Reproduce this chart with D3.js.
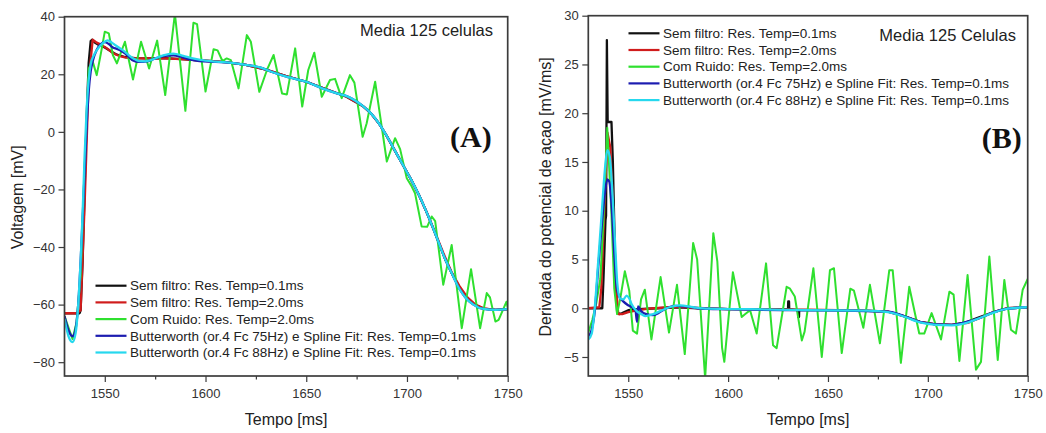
<!DOCTYPE html>
<html><head><meta charset="utf-8">
<script src="https://cdn.jsdelivr.net/npm/d3@7"></script>
<style>
body{margin:0;background:#fff;}
svg{display:block;font-family:"Liberation Sans",Arial,sans-serif;}
</style></head>
<body><svg id="c" width="1046" height="433"></svg>
<script>
// ---------- DATA ----------
const seriesNames = [
  "Sem filtro: Res. Temp=0.1ms",
  "Sem filtro: Res. Temp=2.0ms",
  "Com Ruido: Res. Temp=2.0ms",
  "Butterworth (or.4 Fc 75Hz) e Spline Fit: Res. Temp=0.1ms",
  "Butterworth (or.4 Fc 88Hz) e Spline Fit: Res. Temp=0.1ms"
];
const seriesColors = ["#111111", "#d01c1c", "#2fe02f", "#1c1cb0", "#26d8ee"];
const xTicks = [1550, 1600, 1650, 1700, 1750];
const aYTicks = [-80, -60, -40, -20, 0, 20, 40];
const bYTicks = [-5, 0, 5, 10, 15, 20, 25, 30];

// Panel A: Voltagem [mV] vs Tempo [ms]
const aBlack = [[1530,-63],[1537.5,-63],[1538,-62],[1539,-45],[1540,-20],[1541,5],[1542,24],[1543,31.5],[1543.8,32],[1545,31],[1547,30.2],[1550,29.3],[1553,28],[1556,26.8],[1560,26],[1565,25.6],[1570,25.5],[1580,25.6],[1590,25.2],[1600,24.7],[1610,24.2],[1620,23.3],[1630,21.6],[1640,19.4],[1650,17.4],[1660,14.8],[1670,12.2],[1678,9],[1682,6.5],[1686,3],[1690,-1.5],[1694,-6.5],[1698,-11.5],[1702,-16.5],[1706,-22],[1710,-28.3],[1713,-33.5],[1716.6,-40],[1719,-44.3],[1722,-48.8],[1726,-54],[1729,-57],[1733,-59.8],[1738,-61.4],[1744,-61.8],[1750,-61.6]];
const aRed = [[1530,-63],[1532,-63],[1534,-63],[1536,-63],[1538,-62],[1540,-25],[1542,18],[1544,32],[1546,31],[1548,30.3],[1550,29.5],[1552,28.5],[1554,27.4],[1556,26.7],[1558,26.2],[1560,25.9],[1564,25.6],[1570,25.5],[1580,25.5],[1590,25.2],[1600,24.7],[1610,24.2],[1620,23.3],[1630,21.6],[1640,19.4],[1650,17.4],[1660,14.8],[1670,12.2],[1678,9],[1682,6.5],[1686,3],[1690,-1.5],[1694,-6.5],[1698,-11.5],[1702,-16.5],[1706,-22],[1710,-28.3],[1714,-35],[1718,-42],[1722,-48.5],[1726,-53.5],[1730,-57.5],[1734,-60],[1738,-61.3],[1744,-61.8],[1750,-61.6]];
const aGreen = [[1530,-64],[1532,-68],[1534,-72],[1536,-66],[1538,-50],[1540,-12],[1542,22],[1544,24.4],[1546,19.7],[1548,27],[1550,34.8],[1552,34.2],[1554,26.7],[1556,23.8],[1560,31.3],[1564,18.2],[1568,31.3],[1572,22],[1576,31.7],[1580,12.8],[1584.8,41],[1590,7.3],[1594,37.9],[1595.8,37.4],[1600,14],[1604,28.7],[1606,28.3],[1608.4,24.6],[1610.5,25.5],[1612.6,24.9],[1616.4,15.1],[1620.5,33.6],[1622.5,31.3],[1626.7,13.9],[1630.5,21.5],[1633.8,26.7],[1638,13.3],[1640.4,13],[1644.5,29],[1648,8.8],[1651,21.5],[1654,27.5],[1657.7,12.2],[1661.8,18],[1664.3,18.4],[1667.6,11.7],[1671.7,19.7],[1673.9,17.1],[1678,-1.7],[1680,3],[1684.2,17.4],[1686.6,5.9],[1690,-10.3],[1694.1,-2.2],[1696.6,-6],[1699.9,-16.1],[1702,-18.5],[1704,-21.3],[1707.3,-32.9],[1710,-33],[1712.3,-29.4],[1714,-31],[1718,-53.1],[1722.2,-39.3],[1727.2,-68.2],[1731.8,-47.7],[1736.3,-68.2],[1739.6,-56],[1741.2,-57.5],[1743.9,-65.9],[1745.5,-65.3],[1749.4,-59],[1750,-61]];
const aBlue = [[1530,-64],[1532,-69],[1534,-71],[1535,-70],[1536,-66],[1537,-58],[1538,-45],[1539,-30],[1540,-14],[1541,2],[1542,14],[1543,21],[1544,24.5],[1546,28.5],[1548,30.5],[1550,31.2],[1552,30.5],[1554,29.3],[1556,28.8],[1558,28.2],[1560,27.3],[1562,26],[1564,24.8],[1567,24.3],[1571,24.5],[1575,25.5],[1580,26.4],[1584,26.6],[1588,26],[1592,25.2],[1597,24.6],[1605,24.3],[1614,23.9],[1620,23.3],[1627,22.4],[1633,20.8],[1641,19],[1650,17.4],[1658,15.1],[1666,13.2],[1670,12.4],[1678,9],[1682,6.5],[1686,3],[1690,-1.5],[1694,-6.5],[1698,-11.5],[1702,-16.5],[1706,-22],[1710,-28.3],[1713,-33.5],[1716.6,-40],[1719,-44.3],[1722,-48.8],[1726,-54.5],[1729,-57.5],[1733,-60],[1738,-61.5],[1744,-61.8],[1750,-61.6]];
const aCyan = [[1530,-65],[1532,-71],[1534,-73],[1535.5,-70],[1537,-58],[1538,-45],[1539,-28],[1540,-8],[1541,8],[1542,18],[1543,23.5],[1544.5,26.5],[1546.5,28.8],[1549,30.8],[1551.5,31.8],[1553.5,31],[1555.5,30],[1558,28.8],[1560,27.8],[1562,26.6],[1564.2,25.5],[1567,24.6],[1570,24.5],[1573.3,25],[1576,25.8],[1579,26.6],[1584,27.2],[1589,26.4],[1593,25.6],[1597.4,25],[1605,24.4],[1614,23.9],[1620,23.3],[1627,22.4],[1633,20.8],[1641,19],[1650,17.4],[1658,15.1],[1666,13.2],[1670,12.4],[1678,9],[1682,6.5],[1686,3],[1690,-1.5],[1694,-6.5],[1698,-11.5],[1702,-16.5],[1706,-22],[1710,-28.3],[1713,-33.5],[1716.6,-40],[1719,-44.3],[1722,-48.8],[1726,-54.5],[1729,-57.5],[1733,-60],[1738,-61.5],[1744,-61.8],[1750,-61.6]];

// Panel B: Derivada do potencial de açao [mV/ms] vs Tempo [ms]
const bBlack = [[1530,0],[1537,0],[1537.6,3],[1538.6,9],[1538.9,9.5],[1539.3,27.5],[1539.7,19.1],[1541.6,19.1],[1542.3,15],[1543.4,5],[1544.4,-0.3],[1545.5,-0.6],[1547,-0.5],[1550,-0.2],[1555,-0.1],[1565,0],[1575,0.1],[1585,0],[1600,-0.1],[1630,-0.1],[1630.1,0.7],[1630.5,0.7],[1630.6,-0.1],[1635,-0.2],[1635.1,-0.9],[1635.5,-0.9],[1635.6,-0.2],[1660,-0.2],[1680,-0.35],[1688,-0.8],[1696,-1.4],[1704,-1.65],[1712,-1.7],[1719,-1.45],[1726,-0.9],[1733,-0.4],[1740,0],[1750,0.1]];
const bRed = [[1530,0],[1535.5,0.1],[1536.5,2],[1538,10],[1539.6,18],[1541,16.5],[1542.5,10],[1544,2],[1545,-0.6],[1547,-0.6],[1550,-0.4],[1555,-0.2],[1560,-0.05],[1570,0.1],[1576,0.15],[1582,0.05],[1600,-0.1],[1640,-0.15],[1670,-0.25],[1680,-0.35],[1688,-0.8],[1696,-1.4],[1704,-1.65],[1712,-1.7],[1720,-1.5],[1726,-1],[1733,-0.4],[1740,0],[1750,0.1]];
const bGreen = [[1530,-2.5],[1532,-1.2],[1534,0.5],[1536,3],[1537.6,9],[1539.5,18.5],[1541.5,10],[1543,2],[1544.4,-0.6],[1546,1],[1548.3,3.8],[1550.5,1.8],[1552.3,-2.3],[1554.4,-2.6],[1556.4,0.9],[1558.3,1.9],[1561.6,-3.2],[1566.2,3.2],[1570.4,-2.5],[1574.4,2.4],[1578.3,-4.7],[1582.5,6.7],[1584.5,5],[1588.5,-7.2],[1592.6,7.7],[1594.6,4.8],[1597,-4.1],[1598.1,-5.5],[1602.4,3.7],[1604.5,1.5],[1606.8,-0.9],[1608.6,-0.6],[1611,-0.2],[1614.3,-2.6],[1619,4.6],[1622.5,-3.8],[1624.3,-4.1],[1629.3,2.2],[1631,2],[1633.4,1.2],[1636.9,-3.3],[1638.3,-2.4],[1642.7,4.1],[1646.9,-5],[1651,3.9],[1653,4.1],[1656.9,-4.6],[1661.2,2],[1663,1.8],[1667.7,-2],[1671,2.4],[1676,-3.6],[1680.7,3.9],[1682.4,3.9],[1686.5,-5.6],[1690.7,2.2],[1695.7,-2.6],[1698.2,-2.6],[1701.9,-0.5],[1706.6,-3.2],[1710.8,1.7],[1712.9,1.4],[1715.8,-5.4],[1719.9,3.4],[1724.1,-6.3],[1726.6,-5.5],[1730.8,5.3],[1735,-5.3],[1738.3,2.9],[1741.6,-2.2],[1744.1,-2.6],[1747.5,1.9],[1750,3]];
const bBlue = [[1530,-2.9],[1531.7,-2.2],[1533.3,-0.2],[1535,4.3],[1536.7,8.4],[1538.3,11.8],[1539.5,13.2],[1540.5,13],[1541.7,10.4],[1543,5.6],[1544.2,2.2],[1545.5,1.2],[1547.5,0.7],[1550,0.3],[1552.5,0],[1553.6,-0.2],[1554.4,-1.4],[1554.9,0.2],[1556.5,-0.3],[1559,-0.6],[1562.4,-0.7],[1565,-0.5],[1568.2,-0.1],[1573.3,0.25],[1578.3,0.2],[1585,0],[1600,-0.1],[1630,-0.2],[1660,-0.25],[1680,-0.35],[1688,-0.8],[1696,-1.4],[1704,-1.65],[1712,-1.7],[1719.5,-1.4],[1726,-1],[1733,-0.4],[1740,-0.05],[1750,0.1]];
const bCyan = [[1530,-3.2],[1531.7,-2.6],[1533.3,0.2],[1535,4.9],[1536.7,9.7],[1538.3,14.2],[1539.5,16.2],[1540.8,15.5],[1542.2,11.4],[1543.4,6.7],[1544.5,2.6],[1545.9,1],[1547.5,0.9],[1549.2,1.3],[1550.5,1],[1551.7,0.4],[1554.2,-0.3],[1556.5,-0.6],[1558.4,-0.8],[1562.5,-0.6],[1566,-0.3],[1569.2,0],[1575.9,0.3],[1582.6,0.1],[1590,-0.05],[1610,-0.1],[1640,-0.2],[1670,-0.25],[1680,-0.4],[1688,-0.85],[1696,-1.45],[1704,-1.7],[1712,-1.75],[1719.5,-1.5],[1726,-1],[1733,-0.45],[1740,-0.05],[1750,0.1]];

// ---------- DRAW ----------
const svg = d3.select("#c");
const axisColor = "#3c3c3c";

function panel(cfg){
  const {id, left, right, top, bottom, yDomain, yTicks, yMinorStep, series, yLabel, yLabelX,
         legendX, legendY, note, noteX, noteY, tag, tagX, tagY} = cfg;
  const x = d3.scaleLinear().domain([1530, 1750]).range([left, right]);
  const y = d3.scaleLinear().domain(yDomain).range([bottom, top]);
  const g = svg.append("g");

  g.append("clipPath").attr("id", "clip" + id).append("rect")
    .attr("x", left).attr("y", top).attr("width", right - left).attr("height", bottom - top);

  const xMinor = d3.range(1525, 1751, 25).filter(v => v >= 1530 && !xTicks.includes(v));
  const yMinor = d3.range(yDomain[0], yDomain[1] + 0.001, yMinorStep)
     .map(v => Math.round(v * 100) / 100)
     .filter(v => Math.abs(Math.round(v / yMinorStep) * yMinorStep - v) < 1e-6 && !yTicks.includes(v) && v > yDomain[0]);

  const xa = g.append("g").attr("transform", `translate(0,${bottom})`)
    .call(d3.axisBottom(x).tickValues(xTicks).tickSize(6).tickPadding(7).tickFormat(d3.format("d")));
  const xm = g.append("g").attr("transform", `translate(0,${bottom})`)
    .call(d3.axisBottom(x).tickValues(xMinor).tickSize(3.5).tickFormat(""));
  const ya = g.append("g").attr("transform", `translate(${left},0)`)
    .call(d3.axisLeft(y).tickValues(yTicks).tickSize(6).tickPadding(3.5).tickFormat(d3.format("d")));
  const ym = g.append("g").attr("transform", `translate(${left},0)`)
    .call(d3.axisLeft(y).tickValues(yMinor).tickSize(3.5).tickFormat(""));
  [xa, xm, ya, ym].forEach(a => {
    a.select(".domain").remove();
    a.selectAll("line").attr("stroke", axisColor).attr("stroke-width", 1.2);
    a.selectAll("text").attr("fill", "#333").style("font-size", "13px")
      .style("font-family", '"Liberation Sans", Arial, sans-serif');
  });

  const curves = [d3.curveLinear, d3.curveLinear, d3.curveLinear, d3.curveMonotoneX, d3.curveMonotoneX];
  const plot = g.append("g").attr("clip-path", `url(#clip${id})`);
  series.forEach((data, i) => {
    const line = d3.line().x(d => x(d[0])).y(d => y(d[1])).curve(curves[i]);
    plot.append("path").datum(data).attr("d", line).attr("fill", "none")
      .attr("stroke", seriesColors[i]).attr("stroke-width", i === 2 ? 2 : 2.3)
      .attr("stroke-linejoin", "round");
  });

  g.append("rect").attr("x", left).attr("y", top).attr("width", right - left).attr("height", bottom - top)
    .attr("fill", "none").attr("stroke", axisColor).attr("stroke-width", 1.7);

  seriesNames.forEach((name, i) => {
    const yy = legendY + i * 16.7;
    g.append("line").attr("x1", legendX).attr("x2", legendX + 31).attr("y1", yy).attr("y2", yy)
      .attr("stroke", seriesColors[i]).attr("stroke-width", 2.2);
    g.append("text").attr("x", legendX + 34.5).attr("y", yy).attr("dy", "0.35em")
      .style("font-size", "13.5px").attr("fill", "#222").text(name);
  });

  g.append("text").attr("x", noteX).attr("y", noteY).attr("dy", "0.35em")
    .style("font-size", "16.5px").attr("fill", "#222").text(note);
  g.append("text").attr("x", tagX).attr("y", tagY).attr("dy", "0.35em")
    .style("font-size", "30px").style("font-weight", "bold")
    .style("font-family", '"Liberation Serif","Times New Roman",serif').attr("fill", "#111").text(tag);

  g.append("text").attr("x", (left + right) / 2).attr("y", 419).attr("dy", "0.35em")
    .attr("text-anchor", "middle").style("font-size", "16px").attr("fill", "#222").text("Tempo [ms]");
  g.append("text").attr("transform", `translate(${yLabelX},${(top + bottom) / 2 + 1}) rotate(-90)`)
    .attr("dy", "0.35em").attr("text-anchor", "middle").style("font-size", "16px").attr("fill", "#222").text(yLabel);
}

panel({id: "A", left: 64.5, right: 507.7, top: 16.7, bottom: 376, yDomain: [-84.8, 40], yTicks: aYTicks,
  yMinorStep: 10, series: [aBlack, aRed, aGreen, aBlue, aCyan], yLabel: "Voltagem [mV]", yLabelX: 17.3,
  legendX: 95.5, legendY: 285.7, note: "Media 125 celulas", noteX: 360, noteY: 30.7,
  tag: "(A)", tagX: 450, tagY: 136.7});
panel({id: "B", left: 588.3, right: 1027.7, top: 15.7, bottom: 376, yDomain: [-6.95, 30], yTicks: bYTicks,
  yMinorStep: 2.5, series: [bBlack, bRed, bGreen, bBlue, bCyan], yLabel: "Derivada do potencial de açao [mV/ms]",
  yLabelX: 545, legendX: 628.5, legendY: 33.3, note: "Media 125 Celulas", noteX: 879.3, noteY: 35,
  tag: "(B)", tagX: 981.7, tagY: 137});
</script></body></html>
